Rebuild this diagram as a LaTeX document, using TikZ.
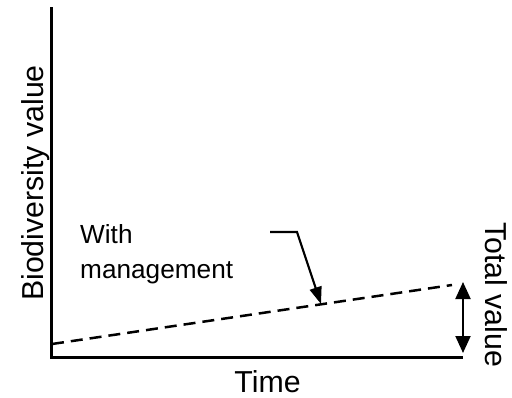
\documentclass[tikz,border=0pt]{standalone}
\usepackage{fontspec}
\setmainfont{Liberation Sans}
\usetikzlibrary{arrows.meta}
\begin{document}
\begin{tikzpicture}[x=1pt,y=1pt,
  axisline/.style={line width=3pt},
  trend/.style={line width=2.5pt, dash pattern=on 12pt off 7pt},
  leader/.style={line width=2.2pt, -{Triangle[width=12pt,length=17pt]}},
  span/.style={line width=2pt, {Triangle[width=15pt,length=17pt]}-{Triangle[width=15pt,length=17pt]}},
  biglabel/.style={inner sep=0pt, font=\fontsize{30.3}{35}\selectfont},
  smalllabel/.style={inner sep=0pt, align=left, font=\fontsize{26.2}{35}\selectfont}]
\useasboundingbox (0,0) rectangle (512,397);

% axes
\coordinate (ytop) at (51,389.5);
\coordinate (origin) at (51,40);
\coordinate (xend) at (463,40);
\draw[axisline] (ytop) -- (origin) -- (xend);

% dashed trend with management
\coordinate (trendstart) at (52,53);
\coordinate (trendend) at (452,112);
\draw[trend] (trendstart) -- (trendend);

% total value span
\coordinate (spantop) at (463,115);
\coordinate (spanbottom) at (463,44);
\draw[span] (spantop) -- (spanbottom);

% labels
\node[biglabel, rotate=90, anchor=base] (ylabel) at (43,214) {Biodiversity value};
\node[biglabel, anchor=base] (xlabel) at (267.5,5) {Time};
\node[biglabel, rotate=-90, anchor=base] (total) at (485,102.5) {Total value};
\node[smalllabel, anchor=north west] (mgmt) at (80,172.5) {With\\management};

% leader from label to trend
\coordinate (leadstart) at (270,165);
\coordinate (leadbend) at (297,165);
\coordinate (leadtip) at (321,93);
\draw[leader] (leadstart) -- (leadbend) -- (leadtip);
\end{tikzpicture}
\end{document}
